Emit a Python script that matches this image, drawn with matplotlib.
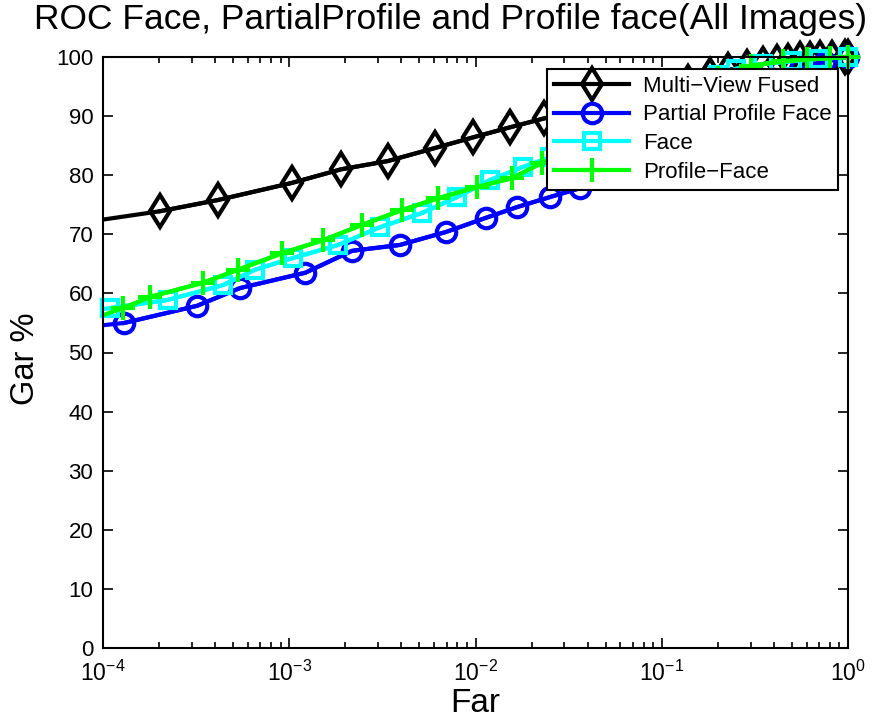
import numpy as np
import matplotlib
matplotlib.use("Agg")
import matplotlib.pyplot as plt

plt.rcParams['font.family'] = ['Liberation Sans', 'DejaVu Sans']
plt.rcParams['mathtext.fontset'] = 'custom'
plt.rcParams['mathtext.rm'] = 'Liberation Sans'
plt.rcParams['mathtext.it'] = 'Liberation Sans'

# ROC points (far on log axis, gar in %)
far_fused = [5e-5, 2.02e-4, 4.14e-4, 1.035e-3, 1.90e-3, 3.39e-3, 6.06e-3, 9.7e-3, 1.53e-2,
             2.33e-2, 3.64e-2, 5.61e-2, 8.65e-2, 0.138, 0.182, 0.227, 0.287, 0.350, 0.416,
             0.476, 0.552, 0.625, 0.708, 0.821, 0.96, 1.0]
gar_fused = [71.1, 73.9, 75.8, 78.7, 81.0, 82.4, 84.6, 86.4, 88.1,
             89.6, 91.0, 92.4, 94.0, 95.8, 97.0, 97.8, 98.3, 98.8, 99.2,
             99.4, 99.6, 99.7, 99.8, 99.9, 100.0, 100.0]

far_partial = [5e-5, 1.30e-4, 3.20e-4, 5.44e-4, 1.22e-3, 2.17e-3, 3.93e-3, 6.95e-3, 1.14e-2,
               1.67e-2, 2.51e-2, 3.64e-2, 5.5e-2, 8.0e-2, 0.12, 0.18, 0.27, 0.40, 0.55,
               0.75, 1.0]
gar_partial = [53.6, 55.0, 57.9, 60.9, 63.5, 67.2, 68.2, 70.4, 72.8,
               74.6, 76.3, 77.8, 80.5, 83.0, 86.5, 90.0, 93.5, 96.3, 98.0,
               99.2, 100.0]

far_face = [5e-5, 1.09e-4, 2.23e-4, 4.41e-4, 6.54e-4, 1.05e-3, 1.83e-3, 3.07e-3, 5.16e-3,
            7.96e-3, 1.20e-2, 1.80e-2, 2.51e-2, 4.0e-2, 6.5e-2, 0.10, 0.15, 0.20, 0.25,
            0.35, 0.50, 0.70, 1.0]
gar_face = [56.3, 57.5, 58.9, 61.4, 64.0, 66.0, 68.2, 71.2, 73.6,
            76.3, 79.2, 81.4, 83.0, 86.0, 89.0, 92.0, 95.0, 97.0, 98.0,
            98.8, 99.3, 99.7, 100.0]

far_profile = [5e-5, 1.28e-4, 1.79e-4, 3.44e-4, 5.31e-4, 9.14e-4, 1.52e-3, 2.46e-3, 4.03e-3,
               6.29e-3, 1.02e-2, 1.57e-2, 2.28e-2, 3.5e-2, 5.5e-2, 8.5e-2, 0.13, 0.20, 0.30,
               0.45, 0.60, 0.80, 1.0]
gar_profile = [53.0, 57.5, 59.4, 61.8, 64.0, 66.8, 69.0, 71.6, 74.1,
               76.1, 78.0, 79.5, 82.1, 84.5, 87.5, 90.5, 93.5, 96.5, 98.5,
               99.3, 99.6, 99.8, 100.0]

series = [
    ("Multi\u2212View Fused", far_fused, gar_fused, 'k', 'd', 16.5),
    ("Partial Profile Face", far_partial, gar_partial, '#0000ff', 'o', 14),
    ("Face", far_face, gar_face, '#00ffff', 's', 12),
    ("Profile\u2212Face", far_profile, gar_profile, '#00ff00', '+', 17),
]

W, H = 881, 723
fig = plt.figure(figsize=(W / 100, H / 100), dpi=100)
ax = fig.add_axes([103 / W, 75 / H, 745 / W, 591 / H])

for label, far, gar, col, mk, ms in series:
    far = np.array(far)
    gar = np.array(gar)
    # line is clipped to the axes, markers are not (like MATLAB)
    ax.plot(far, gar, color=col, lw=3)
    inside = far >= 1e-4
    ax.plot(far[inside], gar[inside], color=col, lw=3, marker=mk, ms=ms,
            mfc='none', mec=col, mew=3, clip_on=False, label=label)

ax.set_xscale('log')
ax.set_xlim(1e-4, 1)
ax.set_ylim(0, 100)
ax.set_yticks(np.arange(0, 101, 10))
ax.tick_params(which='both', direction='in', top=True, right=True, width=1.2)
ax.tick_params(axis='x', labelsize=16.5, pad=9)
ax.tick_params(axis='y', labelsize=16, pad=7)
ax.tick_params(which='major', length=7)
ax.tick_params(which='minor', length=4)
for s in ax.spines.values():
    s.set_linewidth(1.5)

fig.text(475 / W, 1 - 704 / H, "Far", fontsize=24, ha='center', va='center')
fig.text(26 / W, 1 - 359 / H, "Gar %", fontsize=23.5, ha='center', va='center', rotation=90)
fig.text(451 / W, 1 - 20 / H, "ROC Face, PartialProfile and Profile face(All Images)",
         fontsize=25.5, ha='center', va='center')

leg = ax.legend(loc='upper right', bbox_to_anchor=(838 / W, 1 - 69 / H),
                bbox_transform=fig.transFigure, borderaxespad=0,
                fontsize=16, handlelength=3.4, fancybox=False, edgecolor='k',
                framealpha=1, borderpad=0.3, labelspacing=0.35, handletextpad=0.6)
leg.get_frame().set_linewidth(1.5)

fig.savefig("out.png", dpi=100)
